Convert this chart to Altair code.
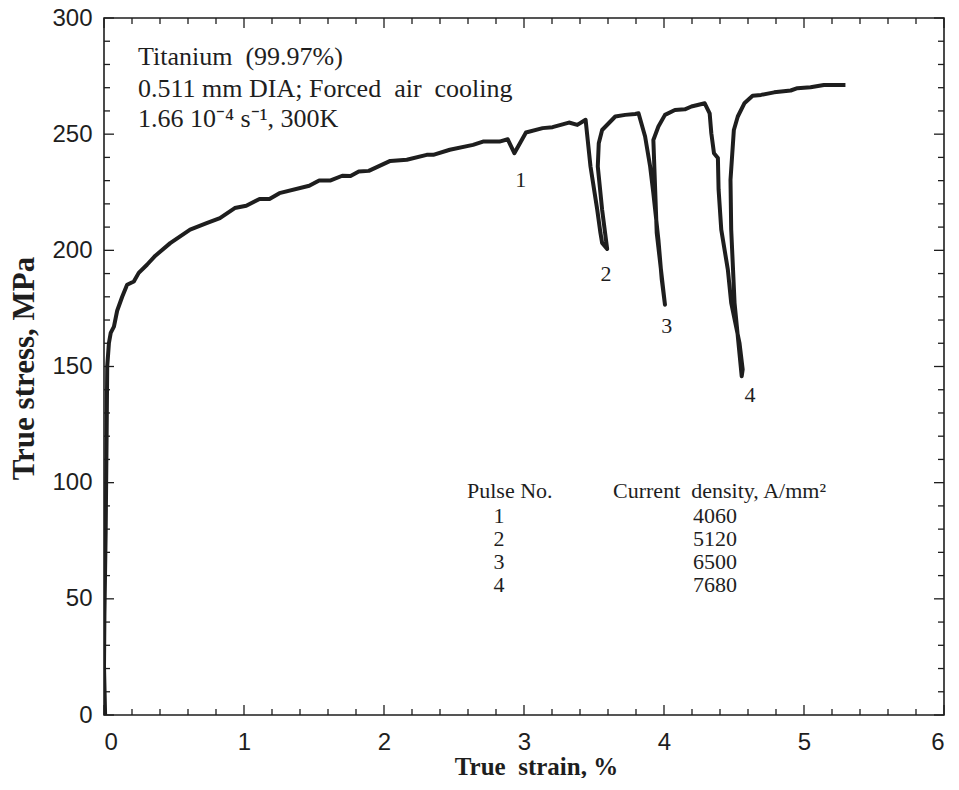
import altair as alt
import pandas as pd

# ---- curve data (true strain %, true stress MPa), traced in path order ----
strain = [0.008, 0.0, 0.003, 0.012, 0.019, 0.023, 0.035, 0.048, 0.071, 0.094,
          0.13, 0.165, 0.213, 0.248, 0.307, 0.367, 0.473, 0.615, 0.733, 0.828,
          0.934, 1.016, 1.111, 1.182, 1.253, 1.466, 1.537, 1.619, 1.702, 1.761,
          1.82, 1.891, 2.045, 2.163, 2.305, 2.352, 2.47, 2.636, 2.707, 2.825,
          2.884, 2.931, 3.014, 3.133, 3.204, 3.321, 3.381, 3.44,
          3.475, 3.523, 3.546, 3.558, 3.594, 3.558, 3.527, 3.534, 3.558, 3.605,
          3.652, 3.723, 3.794, 3.818,
          3.865, 3.901, 3.924, 3.96, 3.984, 4.007, 3.948, 3.924, 3.96, 4.007,
          4.078, 4.149, 4.196, 4.291,
          4.326, 4.338, 4.357, 4.385, 4.39, 4.409, 4.456, 4.48, 4.539, 4.562,
          4.555, 4.504, 4.48, 4.475, 4.499, 4.527, 4.574, 4.633, 4.693, 4.787,
          4.905, 4.953, 5.047, 5.142, 5.296]
stress = [0, 21, 43, 79, 122, 150, 160, 164.5, 167.2, 174,
          180, 185.2, 186.6, 190.3, 193.8, 197.7, 203.1, 208.9, 211.7, 213.9,
          218.2, 219.2, 222.1, 222.1, 224.6, 227.8, 230.1, 230.1, 232.1, 232.0,
          233.9, 234.2, 238.5, 239.0, 241.1, 241.1, 243.3, 245.4, 246.8, 246.8,
          247.8, 241.8, 250.7, 252.6, 253.0, 255.0, 254.0, 256.2,
          236.1, 217.5, 207.5, 203.2, 200.6, 217.5, 236.1, 246.1, 251.8, 254.7,
          257.6, 258.3, 258.7, 259.0,
          249.0, 236.1, 224.6, 204.6, 187.4, 176.6, 207.6, 247.5, 253.3, 258.3,
          260.4, 260.7, 261.9, 263.3,
          259.0, 250.4, 241.8, 239.7, 226.1, 208.9, 191.7, 177.4, 160.2, 148.7,
          145.8, 177.4, 208.9, 230.3, 251.8, 257.6, 263.3, 266.5, 266.9, 268.0,
          268.8, 269.8, 270.2, 271.2, 271.2]

# ---- axis ticks ----
x_major = [0, 1, 2, 3, 4, 5, 6]
x_minor = [round(i * 0.2, 1) for i in range(31) if i % 5 != 0]
y_major = [0, 50, 100, 150, 200, 250, 300]
y_minor = [i * 10 for i in range(31) if i % 5 != 0]

# ---- annotation texts ----
info_lines = ["Titanium\u00a0 (99.97%)",
              "0.511 mm DIA; Forced\u00a0 air\u00a0 cooling",
              "1.66 10\u207b\u2074 s\u207b\u00b9, 300K"]
pulse_labels = ["1", "2", "3", "4"]
pulse_no = ["1", "2", "3", "4"]
current_density = ["4060", "5120", "6500", "7680"]

W, H = 840, 697
df = pd.DataFrame({"strain": strain, "stress": stress, "idx": list(range(len(strain)))})

xs = alt.Scale(domain=[0, 6], nice=False, zero=False)
ys = alt.Scale(domain=[0, 300], nice=False, zero=False)

INK = "#1e1e1e"
SERIF = "Liberation Serif"
SANS = "Liberation Sans"

line = alt.Chart(df).mark_line(color=INK, strokeWidth=4, strokeJoin="round", clip=True).encode(
    x=alt.X("strain:Q", scale=xs, axis=alt.Axis(
        orient="bottom", values=x_major, format="d", domain=False, ticks=False, grid=False,
        labelFont=SANS, labelFontSize=24, labelColor=INK, labelPadding=15,
        title="True\u00a0 strain, %", titleFont=SERIF, titleFontWeight="bold", titleFontSize=25,
        titleColor=INK, titleX=432, titleY=59, titleBaseline="alphabetic", titleAlign="center")),
    y=alt.Y("stress:Q", scale=ys, axis=alt.Axis(
        orient="left", values=y_major, format="d", domain=False, ticks=False, grid=False,
        labelFont=SANS, labelFontSize=24, labelColor=INK, labelPadding=12,
        title="True stress, MPa", titleFont=SERIF, titleFontWeight="bold", titleFontSize=31,
        titleColor=INK, titleX=-80, titleY=350, titleBaseline="middle", titleAlign="center",
        titleAngle=270)),
    order="idx:Q",
)

# ---- inward ticks on all four sides, placed through the scales ----
xmaj = pd.DataFrame({"t": x_major})
xmin = pd.DataFrame({"t": x_minor})
ymaj = pd.DataFrame({"t": y_major})
ymin = pd.DataFrame({"t": y_minor})


def xticks(d, y0, y1):
    return alt.Chart(d).mark_rule(color=INK, strokeWidth=1.3).encode(
        x=alt.X("t:Q", scale=xs, axis=None), y=alt.value(y0), y2=alt.value(y1))


def yticks(d, x0, x1):
    return alt.Chart(d).mark_rule(color=INK, strokeWidth=1.3).encode(
        y=alt.Y("t:Q", scale=ys, axis=None), x=alt.value(x0), x2=alt.value(x1))


ticks = [
    xticks(xmaj, H, H - 10), xticks(xmin, H, H - 6),
    xticks(xmaj, 0, 10), xticks(xmin, 0, 6),
    yticks(ymaj, 0, 10), yticks(ymin, 0, 6),
    yticks(ymaj, W, W - 10), yticks(ymin, W, W - 6),
]


def txt(s, x, y, size, align="left", baseline="alphabetic"):
    return alt.Chart(df.head(1)).mark_text(
        text=s, font=SERIF, fontSize=size, color=INK, align=align, baseline=baseline
    ).encode(x=alt.X(datum=x, scale=xs, axis=None), y=alt.Y(datum=y, scale=ys, axis=None))


texts = []
for s, yb in zip(info_lines, [279.8, 266.1, 253.2]):
    texts.append(txt(s, 0.243, yb, 26))
for s, (px, py) in zip(pulse_labels, [(2.976, 230.3), (3.586, 189.9), (4.019, 167.6), (4.614, 137.9)]):
    texts.append(txt(s, px, py, 22, align="center", baseline="middle"))
texts.append(txt("Pulse No.", 2.593, 93.5, 22))
texts.append(txt("Current\u00a0 density, A/mm\u00b2", 3.636, 93.5, 22))
for n, d, yb in zip(pulse_no, current_density, [82.8, 72.8, 62.8, 52.8]):
    texts.append(txt(n, 2.821, yb, 22, align="center"))
    texts.append(txt(d, 4.207, yb, 22))

chart = alt.layer(line, *ticks, *texts).resolve_axis(
    x="independent", y="independent"
).properties(
    width=W, height=H,
    autosize=alt.AutoSizeParams(type="none"),
    padding={"left": 96, "top": 10, "right": 7, "bottom": 63},
).configure_view(stroke=INK, strokeWidth=1.6)

chart.save("out.html", embed_options={"renderer": "svg", "actions": False})
